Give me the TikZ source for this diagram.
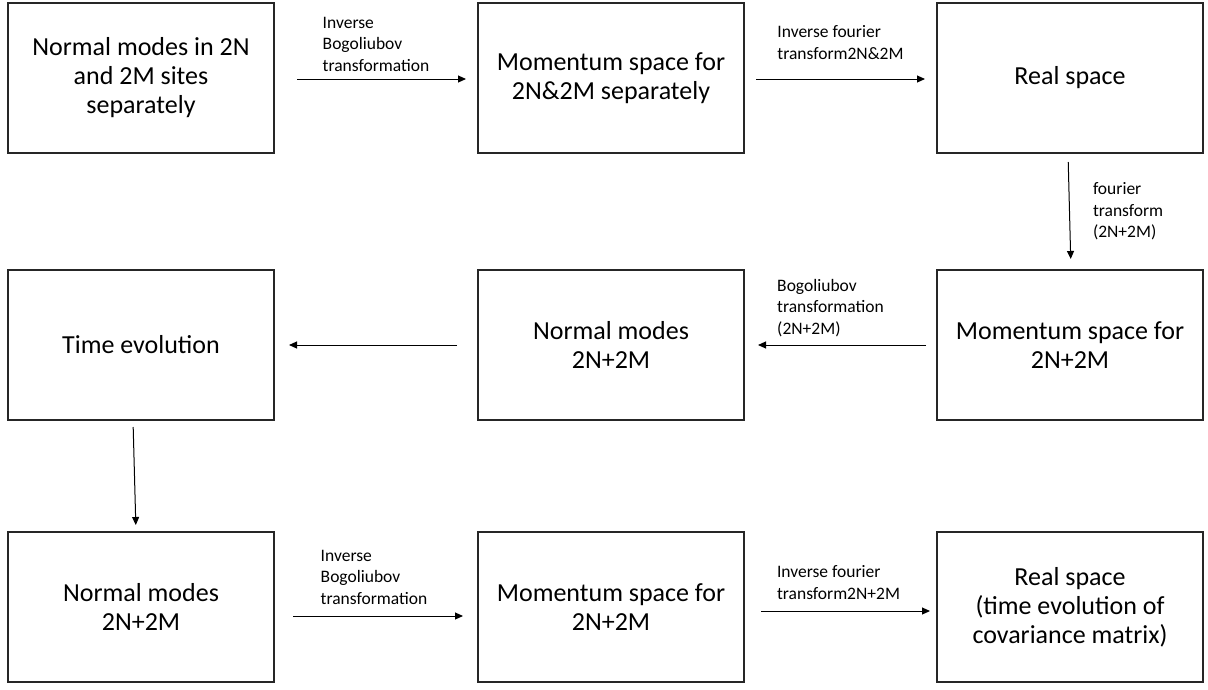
\documentclass[tikz,border=0pt]{standalone}
\usepackage{fontspec}
\setmainfont{Carlito}
\usepackage{tikz}
\usetikzlibrary{arrows.meta,positioning}
\tikzset{
  stagebox/.style={draw=black!85, line width=1.1pt, fill=white, align=center, minimum width=266pt, minimum height=150pt, outer sep=0pt, inner sep=4pt, font=\fontsize{26}{29}\selectfont},
  steplabel/.style={align=left, inner sep=3pt, font=\fontsize{17.5}{21.5}\selectfont},
  flowarrow/.style={-{Triangle[length=8pt,width=7pt]}, line width=1pt, draw=black}
}
\begin{document}
\begin{tikzpicture}[node distance=117pt and 204pt]
    \useasboundingbox (0pt,0pt) rectangle (1208pt,-689pt);
    % first row
    \node[stagebox] (nmsep) at (141pt,-78pt) {Normal modes in 2N\\and 2M sites\\separately};
    \node[stagebox, right=of nmsep] (momsep) {Momentum space for\\2N\&2M separately};
    \node[stagebox, right=193pt of momsep] (realsp) {Real space};
    % second row
    \node[stagebox, below=of realsp] (momall) {Momentum space for\\2N+2M};
    \node[stagebox, below=of momsep] (nmall) {Normal modes\\2N+2M};
    \node[stagebox, below=of nmsep] (tevol) {Time evolution};
    % third row
    \node[stagebox, below=112pt of tevol] (nmfin) {Normal modes\\2N+2M};
    \node[stagebox, right=of nmfin] (momfin) {Momentum space for\\2N+2M};
    \node[stagebox, right=193pt of momfin] (realfin) {Real space\\(time evolution of\\covariance matrix)};
    \draw[flowarrow, shorten <=23pt, shorten >=12pt] ([yshift=-1pt]nmsep.east) -- node[steplabel, above, yshift=4pt] {Inverse\\Bogoliubov\\transformation} ([yshift=-1pt]momsep.west);
    \draw[flowarrow, shorten <=12pt, shorten >=12pt] ([yshift=-1pt]momsep.east) -- node[steplabel, above, yshift=16pt] {Inverse fourier\\transform2N\&2M} ([yshift=-1pt]realsp.west);
    \draw[flowarrow, shorten <=9pt, shorten >=11pt] ([xshift=-2pt]realsp.south) -- node[steplabel, right=20pt] {fourier\\transform\\(2N+2M)} ([xshift=1pt]momall.north);
    \draw[flowarrow, shorten <=11pt, shorten >=14pt] (momall) -- node[steplabel, above, xshift=-10pt, yshift=5pt] {Bogoliubov\\transformation\\(2N+2M)} (nmall);
    \draw[flowarrow, shorten <=21pt, shorten >=15pt] (nmall) -- (tevol);
    \draw[flowarrow, shorten <=7pt, shorten >=7pt] ([xshift=-8pt]tevol.south) -- ([xshift=-5pt]nmfin.north);
    \draw[flowarrow, shorten <=19pt, shorten >=15pt] ([yshift=-9pt]nmfin.east) -- node[steplabel, above, xshift=-2pt, yshift=8pt] {Inverse\\Bogoliubov\\transformation} ([yshift=-9pt]momfin.west);
    \draw[flowarrow, shorten <=17pt, shorten >=7pt] ([yshift=-4pt]momfin.east) -- node[steplabel, above, xshift=-2pt, yshift=8pt] {Inverse fourier\\transform2N+2M} ([yshift=-4pt]realfin.west);
  \end{tikzpicture}
\end{document}
